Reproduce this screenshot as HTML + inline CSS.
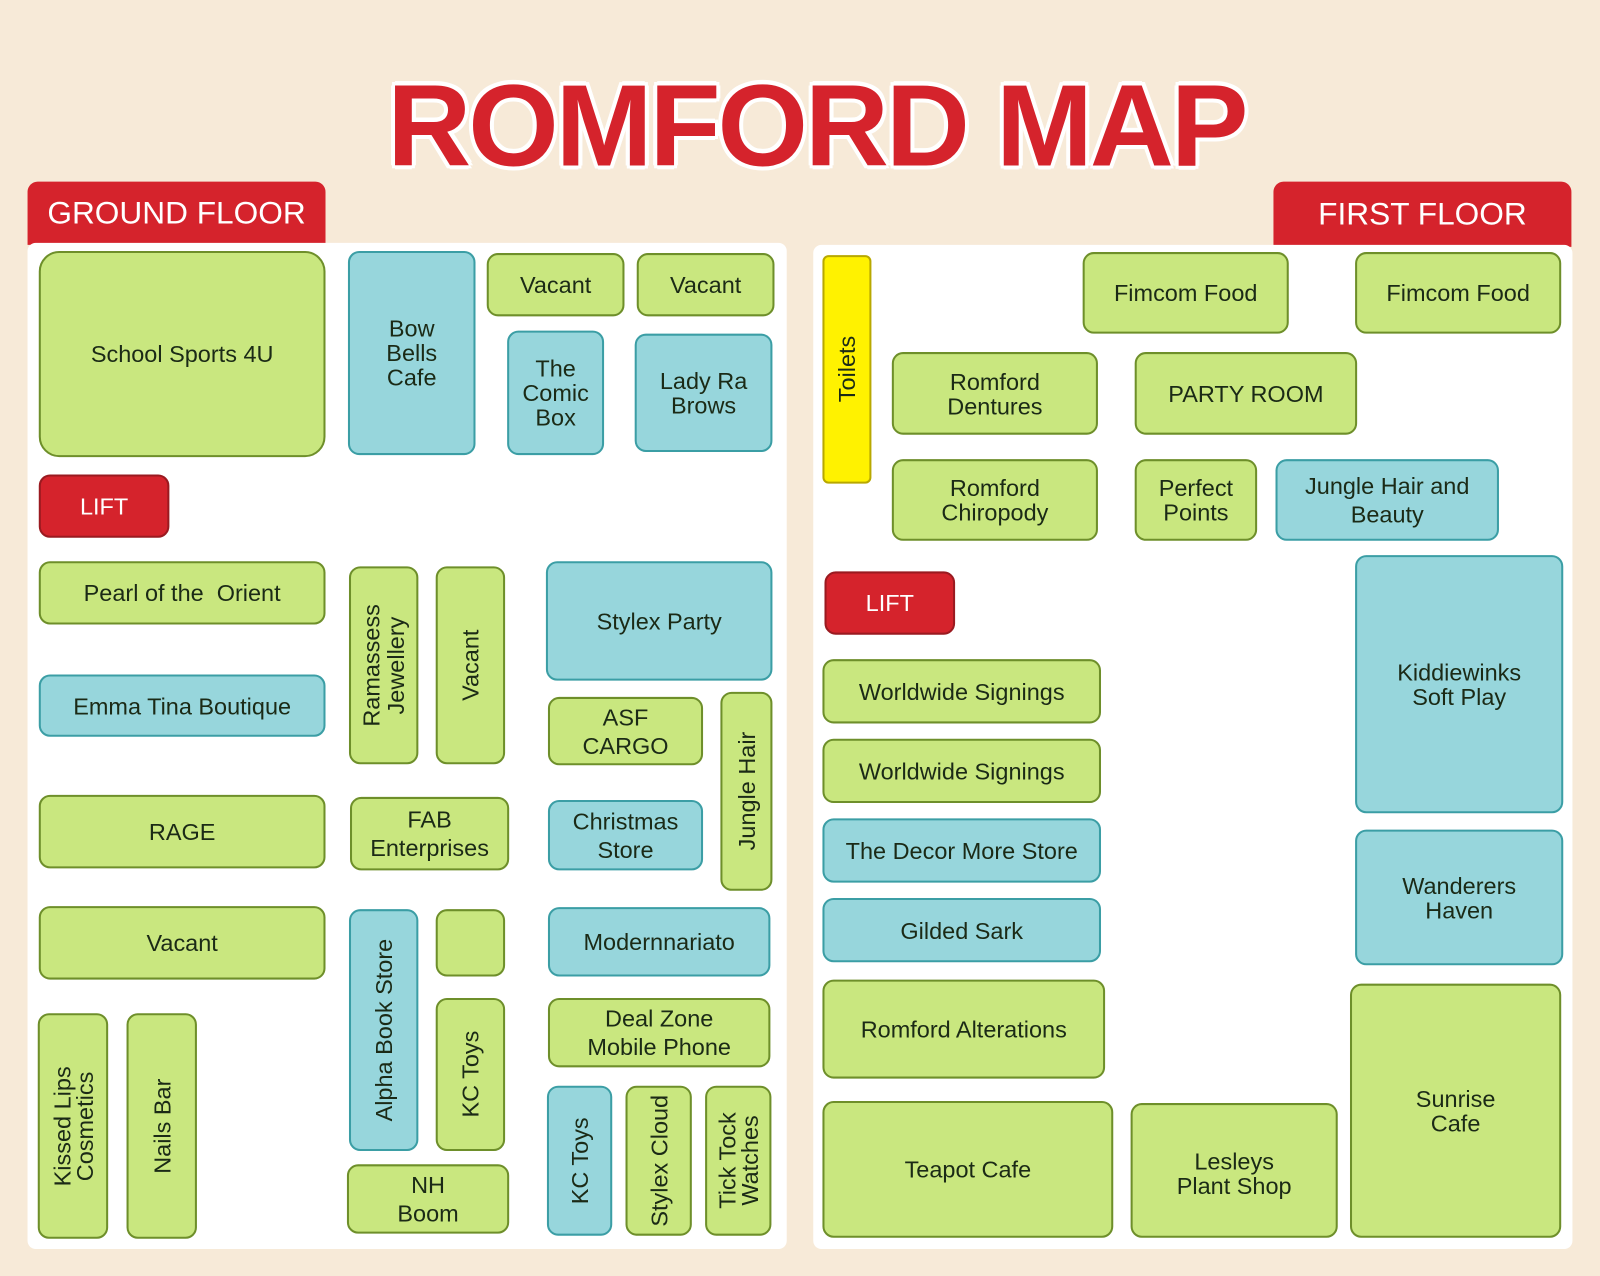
<!DOCTYPE html>
<html><head><meta charset="utf-8"><style>
html,body{margin:0;padding:0;width:1600px;height:1276px;overflow:hidden;background:#f7ead8;}
#w{position:absolute;left:0;top:0;width:1568px;height:1250px;transform:scale(1.0204);transform-origin:0 0;font-family:"Liberation Sans",sans-serif;}
.b{position:absolute;box-sizing:border-box;border-radius:11px;display:flex;align-items:center;justify-content:center;text-align:center;font-size:23px;line-height:24px;color:#1b2a16;}
.g{background:#c9e77f;border:2px solid #6e8f2a;}
.c{background:#97d6dc;border:2px solid #3b9ea5;}
.r{background:#d5232c;border:2px solid #9a1a20;color:#fff;}
.y{background:#fff200;border:2px solid #b8a800;}
.v span{writing-mode:vertical-rl;transform:rotate(180deg);}
.tab{position:absolute;background:#d5232c;color:#fff;font-size:31px;display:flex;align-items:center;justify-content:center;border-radius:10px 10px 0 0;}
.pan{position:absolute;background:#fff;border-radius:8px;}
#t{position:absolute;left:16px;width:1568px;top:58px;text-align:center;font-size:114px;font-weight:bold;color:#d5232c;letter-spacing:-3px;text-shadow:4px 0 #fff,-4px 0 #fff,0 4px #fff,0 -4px #fff,3px 3px #fff,-3px 3px #fff,3px -3px #fff,-3px -3px #fff;}
</style></head><body><div id="w">
<div id="t">ROMFORD MAP</div>
<div class="tab" style="left:27px;top:178px;width:292px;height:62px">GROUND FLOOR</div>
<div class="tab" style="left:1248px;top:178px;width:292px;height:64px">FIRST FLOOR</div>
<div class="pan" style="left:27px;top:238px;width:744px;height:986px"></div>
<div class="pan" style="left:797px;top:240px;width:744px;height:984px"></div>

<div class="b g" style="left:38px;top:246px;width:281px;height:202px;border-radius:20px">School Sports 4U</div>
<div class="b c" style="left:341px;top:246px;width:125px;height:200px">Bow<br>Bells<br>Cafe</div>
<div class="b g" style="left:477px;top:248px;width:135px;height:62px">Vacant</div>
<div class="b g" style="left:624px;top:248px;width:135px;height:62px">Vacant</div>
<div class="b c" style="left:497px;top:324px;width:95px;height:122px">The<br>Comic<br>Box</div>
<div class="b c" style="left:622px;top:327px;width:135px;height:116px">Lady Ra<br>Brows</div>
<div class="b r" style="left:38px;top:465px;width:128px;height:62px">LIFT</div>
<div class="b g" style="left:38px;top:550px;width:281px;height:62px">Pearl of the&nbsp; Orient</div>
<div class="b g v" style="left:342px;top:555px;width:68px;height:194px"><span>Ramassess<br>Jewellery</span></div>
<div class="b g v" style="left:427px;top:555px;width:68px;height:194px"><span>Vacant</span></div>
<div class="b c" style="left:535px;top:550px;width:222px;height:117px">Stylex Party</div>
<div class="b c" style="left:38px;top:661px;width:281px;height:61px">Emma Tina Boutique</div>
<div class="b g" style="left:537px;top:683px;width:152px;height:67px;line-height:28px">ASF<br>CARGO</div>
<div class="b g v" style="left:706px;top:678px;width:51px;height:195px"><span>Jungle Hair</span></div>
<div class="b g" style="left:38px;top:779px;width:281px;height:72px">RAGE</div>
<div class="b g" style="left:343px;top:781px;width:156px;height:72px;line-height:28px">FAB<br>Enterprises</div>
<div class="b c" style="left:537px;top:784px;width:152px;height:69px;line-height:28px">Christmas<br>Store</div>
<div class="b g" style="left:38px;top:888px;width:281px;height:72px">Vacant</div>
<div class="b c v" style="left:342px;top:891px;width:68px;height:237px"><span>Alpha Book Store</span></div>
<div class="b g" style="left:427px;top:891px;width:68px;height:66px"></div>
<div class="b c" style="left:537px;top:889px;width:218px;height:68px">Modernnariato</div>
<div class="b g v" style="left:427px;top:978px;width:68px;height:150px"><span>KC Toys</span></div>
<div class="b g" style="left:537px;top:978px;width:218px;height:68px;line-height:28px">Deal Zone<br>Mobile Phone</div>
<div class="b g v" style="left:37px;top:993px;width:69px;height:221px;line-height:22px"><span>Kissed Lips<br>Cosmetics</span></div>
<div class="b g v" style="left:124px;top:993px;width:69px;height:221px"><span>Nails Bar</span></div>
<div class="b g" style="left:340px;top:1141px;width:159px;height:68px;line-height:28px">NH<br>Boom</div>
<div class="b c v" style="left:536px;top:1064px;width:64px;height:147px"><span>KC Toys</span></div>
<div class="b g v" style="left:613px;top:1064px;width:65px;height:147px"><span>Stylex Cloud</span></div>
<div class="b g v" style="left:691px;top:1064px;width:65px;height:147px;line-height:22px"><span>Tick Tock<br>Watches</span></div>

<div class="b y v" style="left:806px;top:250px;width:48px;height:224px;border-radius:6px"><span>Toilets</span></div>
<div class="b g" style="left:1061px;top:247px;width:202px;height:80px">Fimcom Food</div>
<div class="b g" style="left:1328px;top:247px;width:202px;height:80px">Fimcom Food</div>
<div class="b g" style="left:874px;top:345px;width:202px;height:81px">Romford<br>Dentures</div>
<div class="b g" style="left:1112px;top:345px;width:218px;height:81px">PARTY ROOM</div>
<div class="b g" style="left:874px;top:450px;width:202px;height:80px">Romford<br>Chiropody</div>
<div class="b g" style="left:1112px;top:450px;width:120px;height:80px">Perfect<br>Points</div>
<div class="b c" style="left:1250px;top:450px;width:219px;height:80px;line-height:28px">Jungle Hair and<br>Beauty</div>
<div class="b r" style="left:808px;top:560px;width:128px;height:62px">LIFT</div>
<div class="b c" style="left:1328px;top:544px;width:204px;height:253px">Kiddiewinks<br>Soft Play</div>
<div class="b g" style="left:806px;top:646px;width:273px;height:63px">Worldwide Signings</div>
<div class="b g" style="left:806px;top:724px;width:273px;height:63px">Worldwide Signings</div>
<div class="b c" style="left:806px;top:802px;width:273px;height:63px">The Decor More Store</div>
<div class="b c" style="left:806px;top:880px;width:273px;height:63px">Gilded Sark</div>
<div class="b c" style="left:1328px;top:813px;width:204px;height:133px">Wanderers<br>Haven</div>
<div class="b g" style="left:806px;top:960px;width:277px;height:97px">Romford Alterations</div>
<div class="b g" style="left:1323px;top:964px;width:207px;height:249px">Sunrise<br>Cafe</div>
<div class="b g" style="left:806px;top:1079px;width:285px;height:134px">Teapot Cafe</div>
<div class="b g" style="left:1108px;top:1081px;width:203px;height:132px;padding-top:6px">Lesleys<br>Plant Shop</div>
</div></body></html>
